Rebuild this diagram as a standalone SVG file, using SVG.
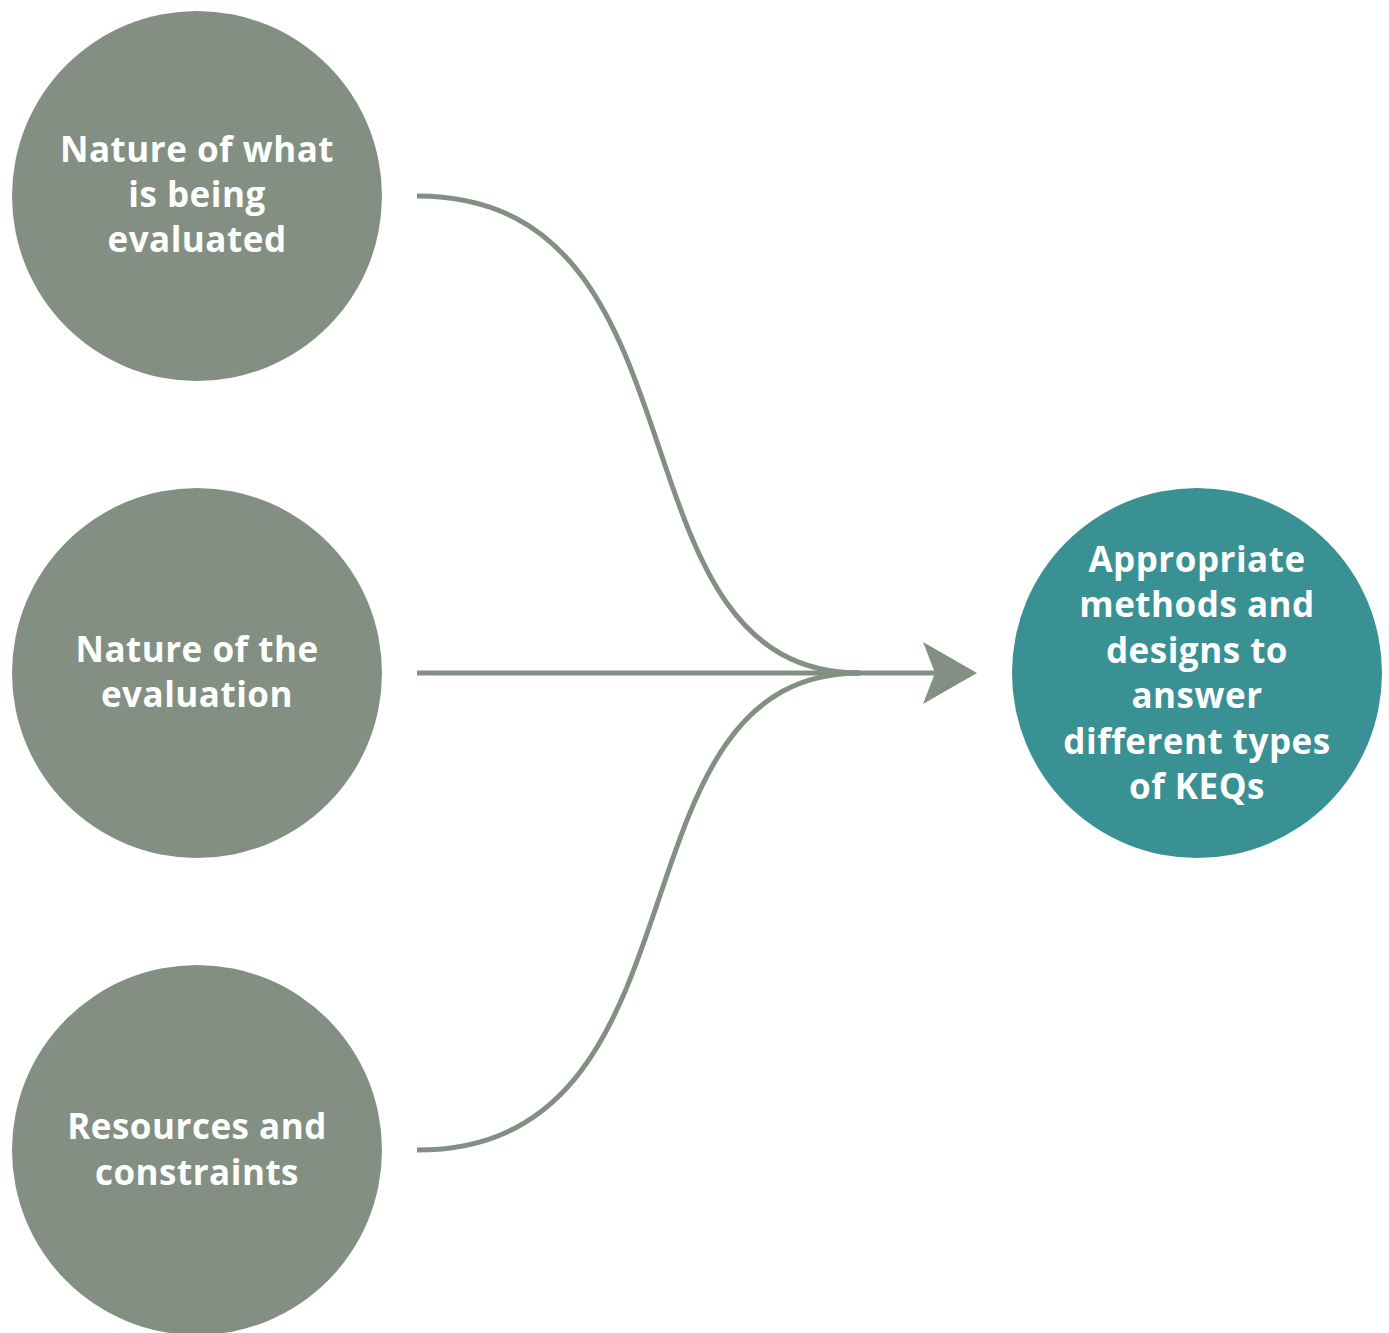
<svg xmlns="http://www.w3.org/2000/svg" width="1389" height="1333" viewBox="0 0 1389 1333">
<style>
.src{fill:#838f82}
.dst{fill:#3a9193}
.t{font-family:"Open Sans","Noto Sans",sans-serif;font-weight:700;font-size:35px;letter-spacing:0.5px;fill:#ffffff;text-anchor:middle}
.c{fill:none;stroke:#838f82;stroke-width:5}
</style>
<rect width="1389" height="1333" fill="#ffffff"/>
<g id="connectors">
<path class="c" d="M417,196 C720,196 600,673 860,673"/>
<path class="c" d="M417,1150 C720,1150 600,673 860,673"/>
<path class="c" d="M417,673 L935,673"/>
<polygon fill="#838f82" points="977,673 923,642 935,673 923,704"/>
</g>
<g id="node-what">
<circle class="src" cx="197" cy="196" r="185"/>
<text class="t"><tspan x="197" y="162">Nature of what</tspan><tspan x="197" y="207">is being</tspan><tspan x="197" y="252">evaluated</tspan></text>
</g>
<g id="node-evaluation">
<circle class="src" cx="197" cy="673" r="185"/>
<text class="t"><tspan x="197" y="662">Nature of the</tspan><tspan x="197" y="707">evaluation</tspan></text>
</g>
<g id="node-resources">
<circle class="src" cx="197" cy="1150" r="185"/>
<text class="t"><tspan x="197" y="1139">Resources and</tspan><tspan x="197" y="1185">constraints</tspan></text>
</g>
<g id="node-methods">
<circle class="dst" cx="1197" cy="673" r="185"/>
<text class="t"><tspan x="1197" y="572">Appropriate</tspan><tspan x="1197" y="617">methods and</tspan><tspan x="1197" y="663">designs to</tspan><tspan x="1197" y="708">answer</tspan><tspan x="1197" y="754">different types</tspan><tspan x="1197" y="799">of KEQs</tspan></text>
</g>
</svg>
